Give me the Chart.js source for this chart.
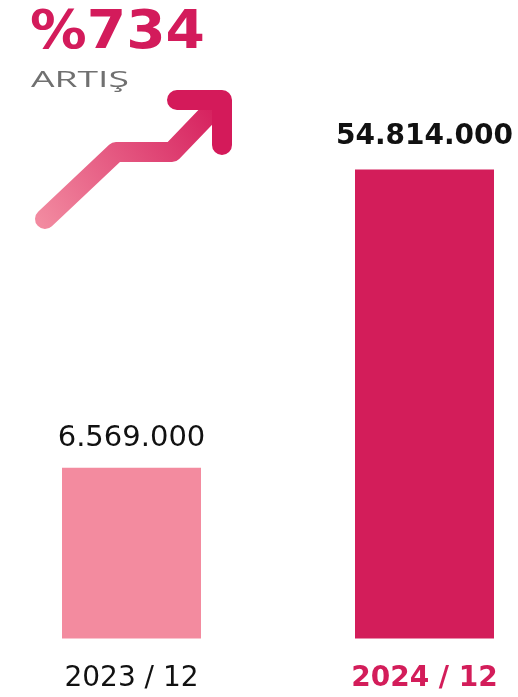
<!DOCTYPE html>
<html>
<head>
<meta charset="utf-8">
<script src="https://cdn.jsdelivr.net/npm/chart.js@4.4.1/dist/chart.umd.min.js"></script>
<style>
    html, body { margin: 0; padding: 0; background: #ffffff; }
    #page { position: relative; width: 518px; height: 697px; overflow: hidden; }
    #wrap { position: absolute; left: -15px; top: 0; width: 586px; height: 723px; }
    #deco { position: absolute; left: 0; top: 0; pointer-events: none; }
</style>
</head>
<body>
<div id="page">
    <div id="wrap"><canvas id="bars"></canvas></div>
    <svg id="deco" width="260" height="240" viewBox="0 0 260 240">
        <defs>
            <linearGradient id="arrowGrad" gradientUnits="userSpaceOnUse" x1="40" y1="222" x2="225" y2="100">
                <stop offset="0" stop-color="#f28aa0"/>
                <stop offset="1" stop-color="#d41a5a"/>
            </linearGradient>
        </defs>
        <text x="30" y="48" fill="#d31b5b" font-family="DejaVu Sans" font-weight="bold" font-size="53"
              textLength="175" lengthAdjust="spacingAndGlyphs">%734</text>
        <text x="31" y="87" fill="#707070" font-family="Open Sans" font-weight="400" font-size="22"
              textLength="98" lengthAdjust="spacingAndGlyphs">ARTIŞ</text>
        <polyline points="45,219 116,152 172,152 220,102" fill="none" stroke="url(#arrowGrad)"
                  stroke-width="20" stroke-linecap="round" stroke-linejoin="round"/>
        <polyline points="177,100 222,100 222,145" fill="none" stroke="#d41a5a"
                  stroke-width="20" stroke-linecap="round" stroke-linejoin="round"/>
    </svg>
</div>
<script>
// Données du graphique
const categories = ['2023 / 12', '2024 / 12'];
const values = [6569000, 54814000];
const barColors = ['#f38b9f', '#d31d5a'];
const tickColors = ['#111111', '#d31d5a'];
const labelWeights = ['normal', 'bold'];

// Format turc : 6.569.000
function formatTr(n) {
    return String(n).replace(/\B(?=(\d{3})+(?!\d))/g, '.');
}

// Plugin pour écrire la valeur au-dessus de chaque barre
const valueLabelPlugin = {
    id: 'valueLabels',
    afterDatasetsDraw(chart) {
        const ctx = chart.ctx;
        const meta = chart.getDatasetMeta(0);
        ctx.save();
        ctx.textAlign = 'center';
        ctx.textBaseline = 'alphabetic';
        ctx.fillStyle = '#111111';
        meta.data.forEach((bar, i) => {
            ctx.font = (labelWeights[i] === 'bold' ? 'bold 28px' : '29px') + ' "DejaVu Sans"';
            const gap = i === 1 ? 26 : 22;
            ctx.fillText(formatTr(values[i]), bar.x, bar.y - gap);
        });
        ctx.restore();
    }
};

const chart = new Chart(document.getElementById('bars').getContext('2d'), {
    type: 'bar',
    data: {
        labels: categories,
        datasets: [{
            data: values,
            backgroundColor: barColors,
            borderWidth: 0,
            barPercentage: 0.4744,
            categoryPercentage: 1,
            clip: false
        }]
    },
    options: {
        responsive: true,
        maintainAspectRatio: false,
        animation: false,
        layout: { padding: { top: 120, bottom: 3, left: 0, right: 0 } },
        plugins: {
            legend: { display: false },
            tooltip: { enabled: false }
        },
        scales: {
            x: {
                grid: { display: false, drawTicks: false },
                border: { display: false },
                ticks: {
                    padding: 24,
                    color: (c) => tickColors[c.index],
                    font: (c) => ({ family: 'DejaVu Sans', size: 28, weight: labelWeights[c.index] })
                }
            },
            y: {
                type: 'logarithmic',
                display: false,
                min: 1950000,
                max: 78000000
            }
        }
    },
    plugins: [valueLabelPlugin]
});
</script>
</body>
</html>
